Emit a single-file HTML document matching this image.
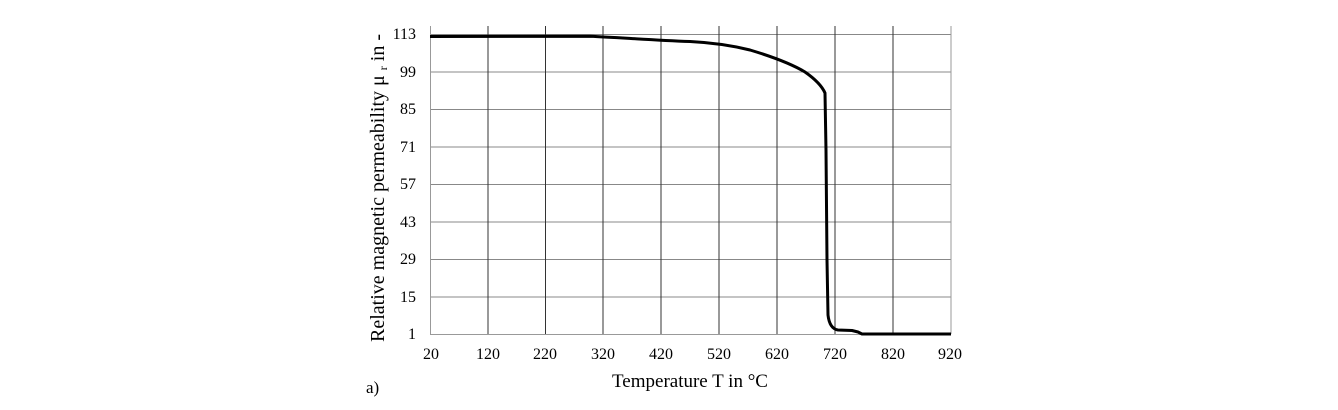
<!DOCTYPE html>
<html><head><style>body{margin:0;background:#fff}</style></head><body>
<svg width="1338" height="405" xmlns="http://www.w3.org/2000/svg" font-family="Liberation Serif, serif" font-size="14">
<rect width="1338" height="405" fill="#fff"/>
<g stroke="#888" stroke-width="1">
<line x1="430" y1="34.5" x2="951" y2="34.5"/><line x1="430" y1="72" x2="951" y2="72"/><line x1="430" y1="109.5" x2="951" y2="109.5"/><line x1="430" y1="147" x2="951" y2="147"/><line x1="430" y1="184.5" x2="951" y2="184.5"/><line x1="430" y1="222" x2="951" y2="222"/><line x1="430" y1="259.5" x2="951" y2="259.5"/><line x1="430" y1="297" x2="951" y2="297"/>
</g>
<g stroke="#333" stroke-width="1">
<line x1="488" y1="26" x2="488" y2="334"/><line x1="545.5" y1="26" x2="545.5" y2="334"/><line x1="603" y1="26" x2="603" y2="334"/><line x1="661" y1="26" x2="661" y2="334"/><line x1="719" y1="26" x2="719" y2="334"/><line x1="777" y1="26" x2="777" y2="334"/><line x1="835" y1="26" x2="835" y2="334"/><line x1="893" y1="26" x2="893" y2="334"/>
</g>
<g stroke="#999"><line x1="430.5" y1="26" x2="430.5" y2="334"/><line x1="951" y1="26" x2="951" y2="334"/><line x1="430" y1="334.5" x2="951" y2="334.5"/></g>
<path d="M430 36.5 L590 36.2 C620 37.5 650 40 690 41.5 C710 42.5 730 45 750 50 C770 56 790 63 805 72 C815 79 822 86 825 93 L826 150 L827 260 L828 315 C829 324 832 329 838 330 L852 330.5 L858 332 L862 334 L951 334" fill="none" stroke="#000" stroke-width="3" stroke-linejoin="round"/>
<g text-anchor="end" font-size="16">
<text x="416" y="39">113</text><text x="416" y="77">99</text><text x="416" y="114">85</text><text x="416" y="152">71</text><text x="416" y="189">57</text><text x="416" y="227">43</text><text x="416" y="264">29</text><text x="416" y="302">15</text><text x="416" y="339">1</text>
</g>
<g text-anchor="middle" font-size="16">
<text x="431" y="359">20</text><text x="488" y="359">120</text><text x="545" y="359">220</text><text x="603" y="359">320</text><text x="661" y="359">420</text><text x="719" y="359">520</text><text x="777" y="359">620</text><text x="835" y="359">720</text><text x="893" y="359">820</text><text x="950" y="359">920</text>
</g>
<text x="690" y="387" text-anchor="middle" font-size="19">Temperature T in °C</text>
<text x="366" y="393" font-size="17">a)</text>
<text transform="translate(384,188) rotate(-90)" text-anchor="middle" font-size="20">Relative magnetic permeability μ <tspan font-size="12" dy="3">r</tspan><tspan dy="-3"> in -</tspan></text>
</svg>
</body></html>
